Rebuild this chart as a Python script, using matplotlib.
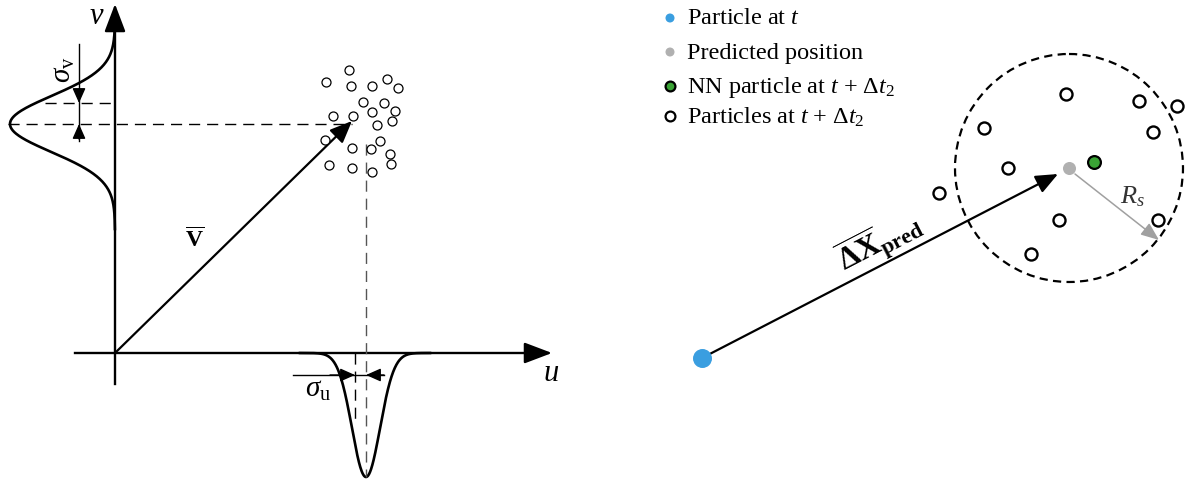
import matplotlib
matplotlib.use("Agg")
import matplotlib.pyplot as plt
import numpy as np
from matplotlib.patches import Circle

plt.rcParams["font.family"] = ["Liberation Serif", "DejaVu Serif"]
plt.rcParams["mathtext.fontset"] = "custom"
plt.rcParams["mathtext.rm"] = "Liberation Serif"
plt.rcParams["mathtext.it"] = "Liberation Serif:italic"
plt.rcParams["mathtext.bf"] = "Liberation Serif:bold"

# --- left panel: velocity distribution sketch (pixel coordinates) ---
origin = (115, 354)
v_axis_top, v_axis_bottom = 5, 385
u_axis_left, u_axis_right = 75, 552
mean_v = (352, 122)                 # tip of mean velocity vector
gauss_v_peak, gauss_v_amp, gauss_v_sigma = 125, 105, 28
gauss_u_peak, gauss_u_amp, gauss_u_sigma = 366, 124, 14
sigma_v_mark = 104
sigma_u_mark = 355

cloud_x = [349, 326, 351, 372, 387, 398, 363, 384, 395, 333, 353, 372,
           377, 392, 325, 352, 371, 380, 390, 391, 329, 352, 372]
cloud_y = [71, 83, 87, 87, 80, 89, 103, 104, 112, 117, 117, 113,
           126, 122, 141, 149, 150, 142, 155, 165, 166, 169, 173]

# --- right panel: nearest-neighbour search sketch ---
particle_t = (702, 359)
predicted = (1069, 169)
search_radius = 114
nn_particle = (1094, 163)
others_x = [1066, 1139, 1177, 984, 1153, 1008, 939, 1059, 1158, 1031]
others_y = [95, 102, 107, 129, 133, 169, 194, 221, 221, 255]

legend_labels = ["Particle at $\\mathit{t}$",
                 "Predicted position",
                 "NN particle at $\\mathit{t}$ + $\\mathit{Δt_2}$",
                 "Particles at $\\mathit{t}$ + $\\mathit{Δt_2}$"]
legend_y = [19, 53, 87, 117]

BLUE = "#3a9ee0"
GREY = "#b0b0b0"
GREEN = "#3aa335"


def arrow(ax, tail, tip, color="k", lw=1.5, hl=0.8, hw=0.35, scale=18, z=3):
    ax.annotate("", xy=tip, xytext=tail,
                arrowprops=dict(arrowstyle=f"-|>,head_length={hl},head_width={hw}",
                                color=color, lw=lw, shrinkA=0, shrinkB=0,
                                mutation_scale=scale),
                zorder=z)


fig = plt.figure(figsize=(11.88, 4.81), dpi=100)
ax = fig.add_axes([0, 0, 1, 1])
ax.set_xlim(0, 1188)
ax.set_ylim(481, 0)
ax.axis("off")

ox, oy = origin
dash = dict(color="k", lw=1.0, ls=(0, (8, 5)))

# axes
ax.plot([ox, ox], [v_axis_bottom, 20], color="k", lw=1.7)
arrow(ax, (ox, 30), (ox, v_axis_top), lw=1.7, hl=0.95, hw=0.36, scale=18)
ax.plot([u_axis_left, u_axis_right - 15], [oy, oy], color="k", lw=1.7)
arrow(ax, (u_axis_right - 25, oy), (u_axis_right, oy), lw=1.7, hl=0.95, hw=0.36, scale=18)
ax.text(97, 17, "$\\mathit{v}$", fontsize=22, ha="center", va="center")
ax.text(551, 374, "$\\mathit{u}$", fontsize=22, ha="center", va="center")

# gaussian profiles
yy = np.linspace(20, 230, 400)
ax.plot(ox - gauss_v_amp * np.exp(-(yy - gauss_v_peak) ** 2 / (2 * gauss_v_sigma ** 2)),
        yy, color="k", lw=1.9)
xx = np.linspace(300, 430, 400)
ax.plot(xx, oy + gauss_u_amp * np.exp(-(xx - gauss_u_peak) ** 2 / (2 * gauss_u_sigma ** 2)),
        color="k", lw=1.9)

# guide lines
ax.plot([8, mean_v[0]], [gauss_v_peak, gauss_v_peak], **dash)
ax.plot([45, ox], [sigma_v_mark, sigma_v_mark], **dash)
ax.plot([gauss_u_peak, gauss_u_peak], [145, 478], color="#555555", lw=1.0, ls=(0, (8, 5)))
ax.plot([sigma_u_mark, sigma_u_mark], [oy, 425], **dash)

# sigma_v marker
ax.plot([79, 79], [45, 142], color="k", lw=1.0)
arrow(ax, (79, 90), (79, sigma_v_mark), lw=1.0, hl=0.9, hw=0.4, scale=10)
arrow(ax, (79, 140), (79, gauss_v_peak), lw=1.0, hl=0.9, hw=0.4, scale=10)
ax.text(64, 70, "$\\mathit{σ}_{\\mathrm{v}}$", fontsize=21, rotation=90,
        ha="center", va="center")

# sigma_u marker
ax.plot([293, 384], [376, 376], color="k", lw=1.0)
arrow(ax, (330, 376), (sigma_u_mark, 376), lw=1.0, hl=0.9, hw=0.4, scale=10)
arrow(ax, (384, 376), (gauss_u_peak, 376), lw=1.0, hl=0.9, hw=0.4, scale=10)
ax.text(318, 390, "$\\mathit{σ}_{\\mathrm{u}}$", fontsize=21, ha="center", va="center")

# mean velocity vector and particle cloud
arrow(ax, origin, mean_v, lw=1.6, hl=0.9, hw=0.38, scale=15)
ax.text(195, 240, "$\\overline{\\mathbf{V}}$", fontsize=17, ha="center", va="center")
ax.scatter(cloud_x, cloud_y, s=42, facecolors="white", edgecolors="k",
           linewidths=0.9, zorder=4)

# --- right panel ---
ax.add_patch(Circle(predicted, search_radius, fill=False, ec="k", lw=1.6,
                    ls=(0, (3.7, 2.4)), zorder=2))
arrow(ax, particle_t, (predicted[0] - 11, predicted[1] + 6), lw=1.6,
      hl=0.9, hw=0.38, scale=15)
arrow(ax, (predicted[0] + 6, predicted[1] + 6), (1159, 241), color="#a0a0a0",
      lw=1.1, hl=1.0, hw=0.4, scale=11)
ax.scatter([particle_t[0]], [particle_t[1]], s=160, color=BLUE, zorder=5)
ax.scatter([predicted[0]], [predicted[1]], s=70, color=GREY, zorder=5)
ax.scatter([nn_particle[0]], [nn_particle[1]], s=85, color=GREEN,
           edgecolors="k", linewidths=1.6, zorder=5)
ax.scatter(others_x, others_y, s=75, facecolors="white", edgecolors="k",
           linewidths=1.7, zorder=5)

ang = np.degrees(np.arctan2(particle_t[1] - predicted[1], predicted[0] - particle_t[0]))
ax.text(880, 242, "$\\overline{\\mathbf{ΔX}}_{\\mathbf{pred}}$", fontsize=23,
        rotation=ang, rotation_mode="anchor", ha="center", va="center")
ax.text(1132, 197, "$\\mathit{R}_{\\mathit{s}}$", fontsize=19, color="#333333",
        ha="center", va="center")

# legend
ax.scatter([670, 670], legend_y[:2], s=30, color=[BLUE, GREY], zorder=5)
ax.scatter([670], [legend_y[2]], s=50, color=GREEN, edgecolors="k",
           linewidths=1.6, zorder=5)
ax.scatter([670], [legend_y[3]], s=50, facecolors="white", edgecolors="k",
           linewidths=1.6, zorder=5)
for y, lab in zip(legend_y, legend_labels):
    ax.text(687, y, lab, fontsize=17.5, ha="left", va="center")

fig.savefig("out.png", dpi=100)
